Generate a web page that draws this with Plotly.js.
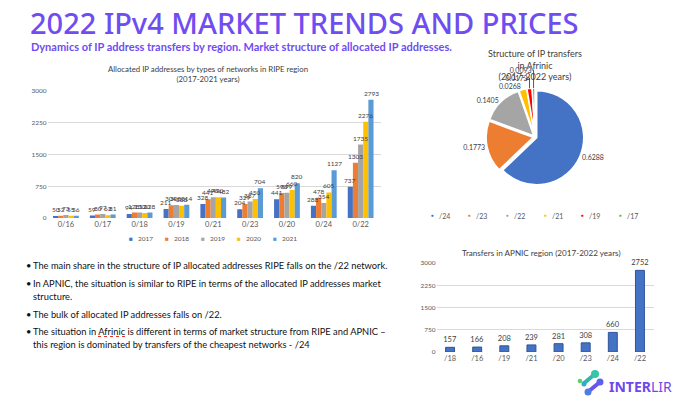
<!DOCTYPE html>
<html>
<head>
<meta charset="utf-8">
<script src="https://cdn.plot.ly/plotly-3.0.1.min.js"></script>
<style>
  html, body { margin: 0; padding: 0; background: #ffffff; }
  #chart { width: 690px; height: 403px; }
</style>
</head>
<body>
<div id="chart"></div>
<script>
// RIPE: allocated IP addresses by network type, per year
const ripeCategories = ['0/16', '0/17', '0/18', '0/19', '0/21', '0/23', '0/20', '0/24', '0/22'];
const ripeYears = ['2017', '2018', '2019', '2020', '2021'];
const ripe2017 = [50, 59, 94, 211, 328, 204, 441, 288, 737];
const ripe2018 = [52, 80, 128, 304, 441, 329, 590, 478, 1303];
const ripe2019 = [73, 97, 130, 308, 490, 387, 599, 354, 1735];
const ripe2020 = [55, 63, 120, 288, 490, 450, 660, 605, 2276];
const ripe2021 = [56, 81, 128, 314, 482, 704, 820, 1127, 2793];
const ripeColors = ['#4472C4', '#ED7D31', '#A5A5A5', '#FFC000', '#5B9BD5'];

// Afrinic: structure of IP transfers
const afrinicLabels = ['/24', '/23', '/22', '/21', '/19', '/17'];
const afrinicShares = [0.6288, 0.1773, 0.1405, 0.0268, 0.0173, 0.0093];
const afrinicColors = ['#4472C4', '#ED7D31', '#A5A5A5', '#FFC000', '#FF0000', '#70AD47'];

// APNIC: transfers by network type
const apnicCategories = ['/18', '/16', '/19', '/21', '/20', '/23', '/24', '/22'];
const apnicValues = [157, 166, 208, 239, 281, 308, 660, 2752];

const axisTicks = [0, 750, 1500, 2250, 3000];

const W = 690, H = 403;
const px = x => x / W;
const py = y => 1 - y / H;

const chartFont = 'Lato, "Open Sans", sans-serif';
const purple = '#6F4DF0';

// RIPE plot area (pixels)
const ripeLeft = 47.5, ripeRight = 380.5;
const bargap = 0.3;

const ripeSeries = [ripe2017, ripe2018, ripe2019, ripe2020, ripe2021];
const traces = ripeSeries.map((vals, i) => ({
  type: 'bar',
  name: ripeYears[i],
  x: ripeCategories,
  y: vals,
  xaxis: 'x',
  yaxis: 'y',
  marker: { color: ripeColors[i] },
  hoverinfo: 'x+y+name',
  showlegend: false
}));

traces.push({
  type: 'bar',
  x: apnicCategories,
  y: apnicValues,
  xaxis: 'x2',
  yaxis: 'y2',
  width: 0.33,
  marker: { color: '#4472C4', line: { color: '#2F5597', width: 1 } },
  text: apnicValues.map(String),
  textposition: 'outside',
  textfont: { family: chartFont, size: 7.5, color: '#404040' },
  constraintext: 'none',
  cliponaxis: false,
  showlegend: false
});

// Pie geometry: centre and radius in pixels
const pieCx = 535, pieCy = 137, pieR = 47, pull = 0.04;
const half = pieR * (1 + pull);
traces.push({
  type: 'pie',
  labels: afrinicLabels,
  values: afrinicShares,
  sort: false,
  direction: 'clockwise',
  rotation: 0,
  pull: afrinicShares.map(() => pull),
  marker: { colors: afrinicColors, line: { color: '#ffffff', width: 1.5 } },
  texttemplate: '%{value}',
  textposition: 'outside',
  textfont: { family: chartFont, size: 7, color: '#404040' },
  automargin: false,
  domain: { x: [px(pieCx - half), px(pieCx + half)], y: [py(pieCy + half), py(pieCy - half)] },
  showlegend: false
});

const annotations = [];
const shapes = [];

function addText(text, x, y, size, color, opts) {
  annotations.push(Object.assign({
    text: text, x: px(x), y: py(y), xref: 'paper', yref: 'paper',
    xanchor: 'left', yanchor: 'middle', showarrow: false,
    font: { family: chartFont, size: size, color: color }
  }, opts || {}));
}

// Value labels above the RIPE bars, drawn on top of all bars
const catWidth = (ripeRight - ripeLeft) / ripeCategories.length;
const barW = catWidth * (1 - bargap) / ripeSeries.length;
ripeSeries.forEach((vals, i) => {
  vals.forEach((v, j) => {
    annotations.push({
      text: String(v), x: ripeCategories[j], y: v, xref: 'x', yref: 'y',
      xshift: (i - (ripeSeries.length - 1) / 2) * barW, yshift: 1,
      xanchor: 'center', yanchor: 'bottom', showarrow: false,
      font: { family: chartFont, size: 6.5, color: '#404040' }
    });
  });
});

// Headline
addText('2022 IPv4 MARKET TRENDS AND PRICES', 28, 23, 29, purple,
  { font: { family: '"Noto Sans", sans-serif', size: 29, color: purple, weight: 500 } });
addText('Dynamics of IP address transfers by region. Market structure of allocated IP addresses.', 29, 47, 11, purple,
  { font: { family: chartFont, size: 11, color: purple, weight: 700 } });

// Chart titles
addText('Allocated IP addresses by types of networks in RIPE region<br>(2017-2021 years)', 208, 74, 7.8, '#404040',
  { xanchor: 'center' });
addText('Structure of IP transfers<br>in Afrinic<br>(2017-2022 years)', 535, 65, 9, '#404040',
  { xanchor: 'center' });
addText('Transfers in APNIC region (2017-2022 years)', 541, 253, 8.1, '#404040',
  { xanchor: 'center' });

// RIPE legend
const ripeLegendX = [131, 167, 203, 239, 275];
ripeYears.forEach((yr, i) => {
  addText('■', ripeLegendX[i], 238, 6.5, ripeColors[i], { xanchor: 'center' });
  addText(yr, ripeLegendX[i] + 5, 238, 6.5, '#595959');
});

// Afrinic legend
const afLegendX = [432, 469, 507, 545, 582, 620];
afrinicLabels.forEach((lab, i) => {
  addText('●', afLegendX[i], 216, 4.5, afrinicColors[i], { xanchor: 'center' });
  addText(lab, afLegendX[i] + 5, 216, 7, '#595959');
});

// Bullet points
const bulletLines = [
  ['The main share in the structure of IP allocated addresses RIPE falls on the /22 network.', 265, true],
  ['In APNIC, the situation is similar to RIPE in terms of the allocated IP addresses market', 283, true],
  ['structure.', 296, false],
  ['The bulk of allocated IP addresses falls on /22.', 314, true],
  ['The situation in Afrinic is different in terms of market structure from RIPE and APNIC –', 331, true],
  ['this region is dominated by transfers of the cheapest networks - /24', 344, false]
];
bulletLines.forEach(([t, y, b]) => {
  if (b) addText('•', 24, y, 9.3, '#111111');
  addText(t, 31, y, 9.3, '#111111');
});
// spell-check squiggle under "Afrinic"
shapes.push({
  type: 'line', xref: 'paper', yref: 'paper',
  x0: px(98), x1: px(125), y0: py(336.5), y1: py(336.5),
  line: { color: '#E0362C', width: 1, dash: 'dot' }
});

// Brand mark
const dot = (cx, cy, r, c) => shapes.push({
  type: 'circle', xref: 'paper', yref: 'paper',
  x0: px(cx - r), x1: px(cx + r), y0: py(cy + r), y1: py(cy - r),
  fillcolor: c, line: { width: 0 }
});
const bar = (x0, y0, x1, y1, c, w) => shapes.push({
  type: 'line', xref: 'paper', yref: 'paper',
  x0: px(x0), y0: py(y0), x1: px(x1), y1: py(y1), line: { color: c, width: w }
});
bar(583, 384, 595, 374, '#2FB7B0', 4);
bar(589, 391, 600, 382, '#6B55E8', 4);
dot(595, 374, 4, '#34C6A7');
dot(580, 381, 2.3, '#57D36A');
dot(600, 382, 3.5, '#5B63EE');
dot(588, 392, 3.5, '#4C7DE6');
dot(584, 384, 2.5, '#3AA7C9');
annotations.push({
  text: '<b>INTER</b>LIR', x: px(607), y: py(386), xref: 'paper', yref: 'paper',
  xanchor: 'left', yanchor: 'middle', showarrow: false,
  font: { family: '"Noto Sans", sans-serif', size: 14, color: '#7047EB' }
});

const gridColor = '#D9D9D9';
const layout = {
  width: W, height: H,
  margin: { l: 0, r: 0, t: 0, b: 0 },
  paper_bgcolor: '#ffffff', plot_bgcolor: '#ffffff',
  font: { family: chartFont, color: '#595959' },
  barmode: 'group', bargap: bargap, bargroupgap: 0,
  showlegend: false,
  xaxis: {
    domain: [px(ripeLeft), px(ripeRight)], anchor: 'y', type: 'category',
    showgrid: false, zeroline: false, showline: false, ticks: '',
    tickfont: { size: 7.5, color: '#595959' }
  },
  yaxis: {
    domain: [py(218), py(91)], anchor: 'x', range: [0, 3000],
    tickvals: axisTicks, ticktext: axisTicks.map(String),
    gridcolor: gridColor, gridwidth: 1, zeroline: false, showline: false,
    tickfont: { size: 6.5, color: '#595959' }
  },
  xaxis2: {
    domain: [px(436.5), px(653.5)], anchor: 'y2', type: 'category',
    showgrid: false, zeroline: false, showline: false, ticks: '',
    tickfont: { size: 7.5, color: '#595959' }
  },
  yaxis2: {
    domain: [py(352), py(263)], anchor: 'x2', range: [0, 3000],
    tickvals: axisTicks, ticktext: axisTicks.map(String),
    gridcolor: gridColor, gridwidth: 1, zeroline: false, showline: false,
    tickfont: { size: 6.5, color: '#595959' }
  },
  annotations: annotations,
  shapes: shapes
};

Plotly.newPlot('chart', traces, layout, { displayModeBar: false, staticPlot: true });
</script>
</body>
</html>
